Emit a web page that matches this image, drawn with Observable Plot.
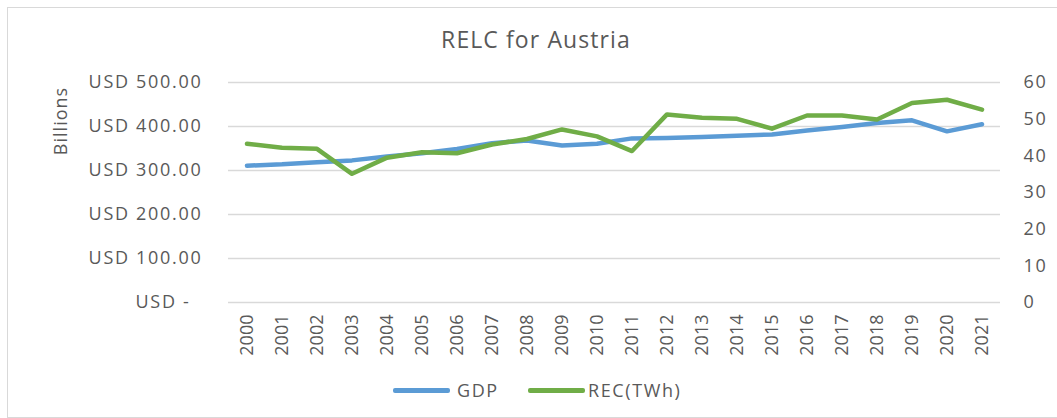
<!DOCTYPE html>
<html>
<head>
<meta charset="utf-8">
<script src="https://cdn.jsdelivr.net/npm/d3@7"></script>
<script src="https://cdn.jsdelivr.net/npm/@observablehq/plot@0.6"></script>
<style>
  html, body { margin: 0; padding: 0; background: #fff; }
  body { width: 1057px; height: 418px; overflow: hidden; position: relative; font-family: "Open Sans", sans-serif; color: #595959; }
  #frame { position: absolute; left: 6.5px; top: 6.5px; width: 1080px; height: 409px; border-left: 1.5px solid #d9d9d9; border-top: 1.5px solid #d9d9d9; border-bottom: 1.5px solid #d9d9d9; }
  #title { position: absolute; left: 0; width: 1072px; top: 24px; text-align: center; font-size: 23px; letter-spacing: 1.1px; line-height: 30px; color: #595959; }
  #chart { position: absolute; left: 0; top: 60px; }
  #ylabel { position: absolute; left: 60px; top: 121px; transform: translate(-50%, -50%) rotate(-90deg); font-size: 18px; letter-spacing: 1px; color: #595959; white-space: nowrap; }
  .leg { position: absolute; top: 378px; font-size: 18px; line-height: 24px; letter-spacing: 1.6px; color: #595959; white-space: nowrap; }
  .sw { position: absolute; top: 388px; height: 4.5px; width: 57px; border-radius: 2px; }
  #chart svg g[aria-label="y-axis tick label"] text { letter-spacing: 1.7px; }
</style>
</head>
<body>
<div id="frame"></div>
<div id="title">RELC for Austria</div>
<div id="chart"></div>
<div id="ylabel">Billions</div>
<div class="sw" style="left:393px;background:#5B9BD5"></div>
<div class="leg" style="left:457px">GDP</div>
<div class="sw" style="left:528px;background:#70AD47"></div>
<div class="leg" style="left:588px">REC(TWh)</div>
<script>
const years = ["2000","2001","2002","2003","2004","2005","2006","2007","2008","2009","2010","2011","2012","2013","2014","2015","2016","2017","2018","2019","2020","2021"];
const gdp = [311, 314, 319, 323, 332, 339, 349, 362, 368, 357, 361, 373, 374, 376, 379, 382, 391, 399, 408, 414, 389, 405];
const rec = [43.3, 42.2, 41.9, 35.1, 39.5, 41.0, 40.7, 43.1, 44.6, 47.2, 45.3, 41.3, 51.3, 50.4, 50.1, 47.4, 51.0, 51.0, 49.9, 54.4, 55.3, 52.6];
const leftTicks = [0, 100, 200, 300, 400, 500];
const rightTicks = [0, 10, 20, 30, 40, 50, 60];
const leftMax = 500, rightMax = 60;

const toLeft = v => v * leftMax / rightMax;
const gdpData = years.map((y, i) => ({year: y, v: gdp[i]}));
const recData = years.map((y, i) => ({year: y, v: toLeft(rec[i])}));

const chart = Plot.plot({
  width: 1057,
  height: 310,
  marginLeft: 228,
  marginRight: 57,
  marginTop: 22,
  marginBottom: 68,
  style: {fontFamily: "Open Sans, sans-serif", fontSize: "18px", color: "#595959", background: "transparent", overflow: "visible"},
  x: {type: "band", domain: years, padding: 0},
  y: {domain: [0, leftMax]},
  marks: [
    Plot.gridY(leftTicks, {stroke: "#d9d9d9", strokeOpacity: 1, strokeWidth: 1.5}),
    Plot.axisY({ticks: leftTicks, tickSize: 0, tickPadding: 26, label: null,
      tickFormat: d => d === 0 ? "USD -\u2007" : "USD " + d.toFixed(2), fill: "#595959"}),
    Plot.axisY({anchor: "right", ticks: rightTicks.map(toLeft), tickSize: 0, tickPadding: 23, label: null,
      textAnchor: "start", tickFormat: d => String(Math.round(d * rightMax / leftMax)), fill: "#595959"}),
    Plot.axisX({tickRotate: -90, tickSize: 0, tickPadding: 12, label: null, fill: "#595959"}),
    Plot.line(gdpData, {x: "year", y: "v", stroke: "#5B9BD5", strokeWidth: 4.5, strokeLinejoin: "round", strokeLinecap: "round"}),
    Plot.line(recData, {x: "year", y: "v", stroke: "#70AD47", strokeWidth: 4.5, strokeLinejoin: "round", strokeLinecap: "round"})
  ]
});
document.getElementById("chart").appendChild(chart);
</script>
</body>
</html>
